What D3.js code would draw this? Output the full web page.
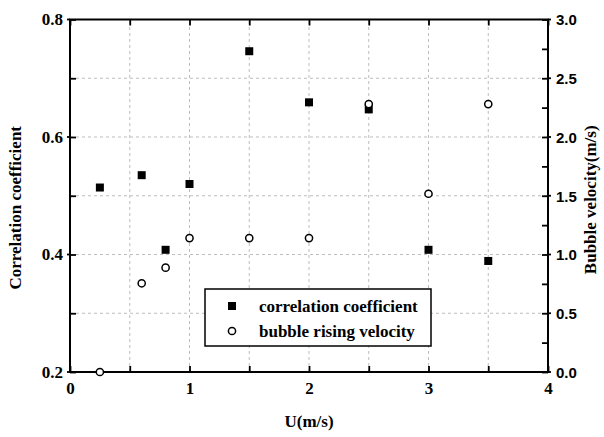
<!DOCTYPE html>
<html>
<head>
<meta charset="utf-8">
<script src="https://cdn.jsdelivr.net/npm/d3@7"></script>
<style>
  body { margin: 0; background: #fff; }
</style>
</head>
<body>
<div id="chart"></div>
<script>
// data
let uValues = [0.25, 0.6, 0.8, 1.0, 1.5, 2.0, 2.5, 3.0, 3.5];
let correlation = [0.514, 0.535, 0.408, 0.52, 0.746, 0.659, 0.647, 0.408, 0.389];
let velocity = [0.0, 0.755, 0.888, 1.14, 1.14, 1.14, 2.28, 1.517, 2.28];
let xTicks = [0, 1, 2, 3, 4];
let leftTicks = [0.2, 0.4, 0.6, 0.8];
let rightTicks = [0.0, 0.5, 1.0, 1.5, 2.0, 2.5, 3.0];
let legendLabels = ["correlation coefficient", "bubble rising velocity"];

let serif = '"Liberation Serif", "Times New Roman", serif';
let sans = '"Liberation Sans", Arial, sans-serif';

let width = 604, height = 437;
let margin = {top: 19.5, right: 56, bottom: 65, left: 70};

let svg = d3.select("#chart").append("svg")
    .attr("width", width)
    .attr("height", height);

let x = d3.scaleLinear().domain([0, 4]).range([margin.left, width - margin.right]);
let yLeft = d3.scaleLinear().domain([0.2, 0.8]).range([height - margin.bottom, margin.top]);
let yRight = d3.scaleLinear().domain([0, 3]).range([height - margin.bottom, margin.top]);

let x0 = margin.left, x1 = width - margin.right;
let y0 = height - margin.bottom, y1 = margin.top;

// grid lines (every minor tick)
let gridX = d3.range(0.5, 4, 0.5);
let gridY = d3.range(0.3, 0.8, 0.1);
svg.append("g").selectAll("line").data(gridX).enter().append("line")
    .attr("x1", d => x(d)).attr("x2", d => x(d))
    .attr("y1", y0).attr("y2", y1)
    .attr("stroke", "#bdbdbd").attr("stroke-width", 1).attr("stroke-dasharray", "3,3");
svg.append("g").selectAll("line").data(gridY).enter().append("line")
    .attr("x1", x0).attr("x2", x1)
    .attr("y1", d => yLeft(d)).attr("y2", d => yLeft(d))
    .attr("stroke", "#bdbdbd").attr("stroke-width", 1).attr("stroke-dasharray", "3,3");

// axes with inward ticks
let bottomAxis = d3.axisBottom(x).tickValues(d3.range(0, 4.01, 0.5))
    .tickSize(-6).tickFormat(d => xTicks.includes(d) ? d : "");
let topAxis = d3.axisTop(x).tickValues(d3.range(0, 4.01, 0.5)).tickSize(-6).tickFormat("");
let leftAxis = d3.axisLeft(yLeft).tickValues(d3.range(0.2, 0.801, 0.1).map(d => +d.toFixed(1)))
    .tickSize(-6).tickFormat(d => leftTicks.includes(d) ? d.toFixed(1) : "");
let rightAxis = d3.axisRight(yRight).tickValues(d3.range(0, 3.01, 0.25))
    .tickSize(-6).tickFormat(d => rightTicks.includes(d) ? d.toFixed(1) : "");

function styleAxis(g, family, size) {
    g.attr("font-family", null).attr("font-size", null);
    g.select(".domain").remove();
    g.selectAll(".tick line").attr("stroke", "#000").attr("stroke-width", 1.8);
    g.selectAll(".tick text")
        .attr("fill", "#000")
        .style("font-family", family)
        .style("font-size", size + "px")
        .style("font-weight", "bold");
}

svg.append("g").attr("transform", `translate(0,${y0})`).call(bottomAxis)
    .call(g => styleAxis(g, serif, 17))
    .call(g => g.selectAll(".tick text").attr("y", 9).attr("dy", "0.75em"));
svg.append("g").attr("transform", `translate(0,${y1})`).call(topAxis)
    .call(g => styleAxis(g, serif, 17));
svg.append("g").attr("transform", `translate(${x0},0)`).call(leftAxis)
    .call(g => styleAxis(g, serif, 17))
    .call(g => g.selectAll(".tick text").attr("x", -7).attr("dy", "0.32em"));
svg.append("g").attr("transform", `translate(${x1},0)`).call(rightAxis)
    .call(g => styleAxis(g, sans, 15))
    .call(g => g.selectAll(".tick text").attr("x", 8).attr("dy", "0.35em"));

// small outward stubs on major ticks
svg.append("g").selectAll("line").data(leftTicks).enter().append("line")
    .attr("x1", x0 - 3).attr("x2", x0).attr("y1", d => yLeft(d)).attr("y2", d => yLeft(d))
    .attr("stroke", "#000").attr("stroke-width", 1.8);
svg.append("g").selectAll("line").data(rightTicks).enter().append("line")
    .attr("x1", x1).attr("x2", x1 + 3).attr("y1", d => yRight(d)).attr("y2", d => yRight(d))
    .attr("stroke", "#000").attr("stroke-width", 1.8);

// frame
svg.append("rect")
    .attr("x", x0).attr("y", y1)
    .attr("width", x1 - x0).attr("height", y0 - y1)
    .attr("fill", "none").attr("stroke", "#000").attr("stroke-width", 2);

// axis titles
function title(sel) {
    return sel.style("font-family", serif).style("font-size", "17px").style("font-weight", "bold")
        .attr("text-anchor", "middle").attr("fill", "#000");
}
svg.append("text").call(title)
    .attr("x", (x0 + x1) / 2).attr("y", 427).text("U(m/s)");
svg.append("text").call(title)
    .attr("transform", `translate(21,${(y0 + y1) / 2 + 12}) rotate(-90)`)
    .text("Correlation coefficient");
svg.append("text").call(title)
    .attr("transform", `translate(596,${(y0 + y1) / 2 + 4}) rotate(-90)`)
    .text("Bubble velocity(m/s)");

// series
let points = uValues.map((u, i) => ({u: u, c: correlation[i], v: velocity[i]}));

svg.append("g").selectAll("rect").data(points).enter().append("rect")
    .attr("x", d => x(d.u) - 4).attr("y", d => yLeft(d.c) - 4)
    .attr("width", 8).attr("height", 8)
    .attr("fill", "#000");

svg.append("g").selectAll("circle").data(points).enter().append("circle")
    .attr("cx", d => x(d.u)).attr("cy", d => yRight(d.v))
    .attr("r", 3.6)
    .attr("fill", "#fff").attr("stroke", "#000").attr("stroke-width", 1.5);

// legend
let legend = svg.append("g").attr("transform", "translate(205,289)");
legend.append("rect")
    .attr("width", 226).attr("height", 57)
    .attr("fill", "#fff").attr("stroke", "#000").attr("stroke-width", 1.5);
legendLabels.forEach(function(label, i) {
    let cy = 17 + i * 25;
    if (i === 0) {
        legend.append("rect").attr("x", 23).attr("y", cy - 4)
            .attr("width", 8).attr("height", 8).attr("fill", "#000");
    } else {
        legend.append("circle").attr("cx", 27).attr("cy", cy)
            .attr("r", 3.6).attr("fill", "#fff").attr("stroke", "#000").attr("stroke-width", 1.5);
    }
    legend.append("text")
        .style("font-family", serif).style("font-size", "17px").style("font-weight", "bold")
        .attr("fill", "#000")
        .attr("x", 54).attr("y", cy + 5.5).text(label);
});
</script>
</body>
</html>
